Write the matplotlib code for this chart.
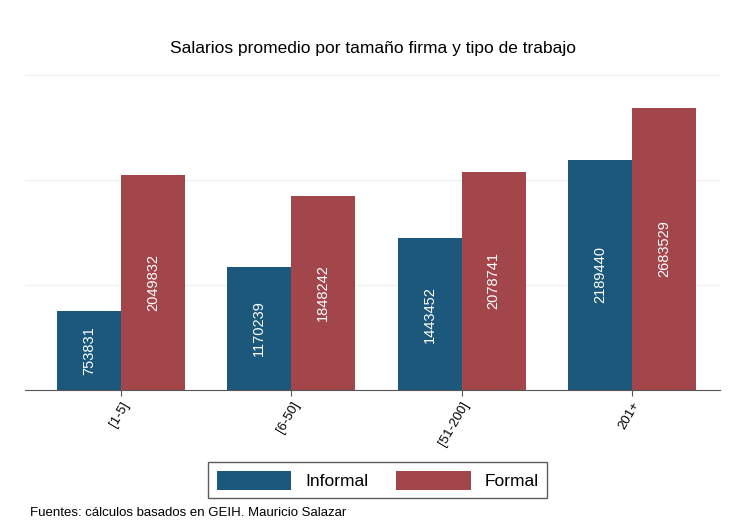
import numpy as np
import matplotlib
matplotlib.use("Agg")
import matplotlib.pyplot as plt

plt.rcParams["font.family"] = ["Liberation Sans", "DejaVu Sans"]

# Datos
tamanos = ["[1-5]", "[6-50]", "[51-200]", "201+"]
informal = [753831, 1170239, 1443452, 2189440]
formal = [2049832, 1848242, 2078741, 2683529]

col_inf = "#1b587c"
col_for = "#a3464b"

fig = plt.figure(figsize=(7.32, 5.27), dpi=100)
ax = fig.add_axes([0.034, 0.26, 0.95, 0.618])

x = np.arange(len(tamanos))
w = 0.376
b1 = ax.bar(x - w / 2, informal, w, color=col_inf, label="Informal", zorder=3)
b2 = ax.bar(x + w / 2, formal, w, color=col_for, label="Formal", zorder=3)

# etiquetas dentro de las barras
for bars in (b1, b2):
    for r in bars:
        h = r.get_height()
        ax.text(r.get_x() + r.get_width() / 2, h / 2, f"{int(h)}",
                rotation=90, ha="center", va="center", color="white",
                fontsize=10.5, zorder=4)

ax.set_xlim(-0.565, 3.52)
ax.set_ylim(0, 3100000)
ax.set_yticks([1000000, 2000000, 3000000])
ax.set_yticklabels([])
ax.tick_params(axis="y", length=0)
ax.grid(axis="y", color="#edf2f2", lw=1, zorder=0)

ax.set_xticks(x)
ax.set_xticklabels(tamanos, rotation=60, ha="right", rotation_mode="anchor",
                   fontsize=9.5)
ax.tick_params(axis="x", length=4, color="#555555", pad=3)

for s in ["top", "right", "left"]:
    ax.spines[s].set_visible(False)
ax.spines["bottom"].set_color("#555555")

ax.set_title("Salarios promedio por tamaño firma y tipo de trabajo",
             fontsize=12.5, pad=8)

fig.legend(handles=[b1, b2], labels=["Informal", "Formal"], loc="center",
           bbox_to_anchor=(0.516, 0.089), ncol=2, fontsize=12.5,
           frameon=True, fancybox=False, edgecolor="#333333",
           handlelength=4.3, handleheight=1.3, columnspacing=1.6,
           borderpad=0.5, handletextpad=0.8)

fig.text(0.041, 0.02, "Fuentes: cálculos basados en GEIH. Mauricio Salazar",
         fontsize=9.5)

fig.savefig("out.png", dpi=100, facecolor="white")
